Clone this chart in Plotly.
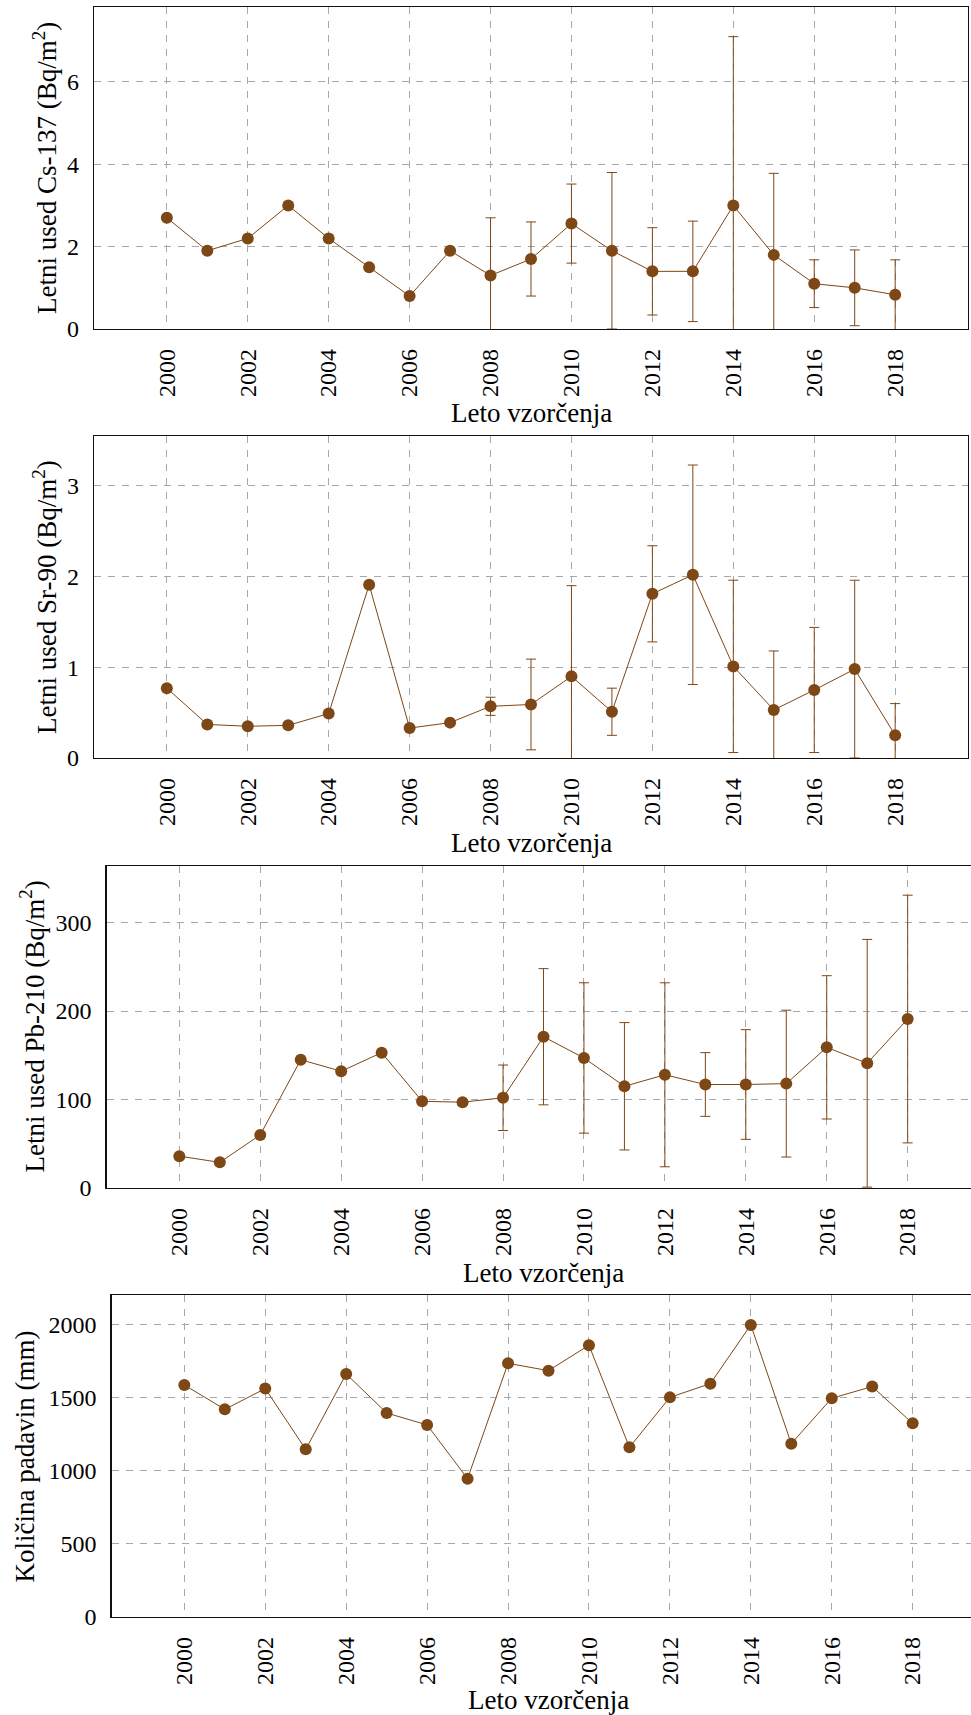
import plotly.graph_objects as go

W, H = 971, 1715

years = list(range(2000, 2019))
year_ticks = list(range(2000, 2019, 2))

cs137 = [2.7, 1.9, 2.2, 3.0, 2.2, 1.5, 0.8, 1.9, 1.3, 1.7, 2.56, 1.9, 1.4, 1.4, 3.0, 1.8, 1.1, 1.0, 0.83]
cs137_err = [None] * 8 + [1.4, 0.9, 0.96, 1.9, 1.06, 1.22, 4.1, 1.98, 0.58, 0.92, 0.85]

sr90 = [0.77, 0.37, 0.35, 0.36, 0.49, 1.91, 0.33, 0.39, 0.57, 0.59, 0.90, 0.51, 1.81, 2.02, 1.01, 0.53, 0.75, 0.98, 0.25]
sr90_err = [None] * 8 + [0.10, 0.50, 1.00, 0.26, 0.53, 1.21, 0.95, 0.65, 0.69, 0.98, 0.35]

pb210 = [36, 29, 60, 145, 132, 153, 98, 97, 102, 171, 147, 115, 128, 117, 117, 118, 159, 141, 191]
pb210_err = [None] * 8 + [37, 77, 85, 72, 104, 36, 62, 83, 81, 140, 140]

rain = [1589, 1422, 1564, 1148, 1664, 1397, 1315, 947, 1737, 1687, 1861, 1162, 1504, 1598, 2000, 1187, 1498, 1578, 1326]

y_titles = [
    "Letni used Cs-137 (Bq/m<sup>2</sup>)",
    "Letni used Sr-90 (Bq/m<sup>2</sup>)",
    "Letni used Pb-210 (Bq/m<sup>2</sup>)",
    "Količina padavin (mm)",
]
x_title = "Leto vzorčenja"
y_ticks = [[0, 2, 4, 6], [0, 1, 2, 3], [0, 100, 200, 300], [0, 500, 1000, 1500, 2000]]
y_max = [7.82, 3.55, 364, 2205]

# panel geometry in page pixels: (left, right, top, bottom)
panels = [(94, 968, 7, 329), (94, 968, 436, 758), (106.5, 980.5, 866, 1188), (111.5, 985.5, 1295, 1617)]
ytitle_x = [45, 45, 32.5, 25.4]
xtitle_y = [413, 843, 1273, 1700]

BROWN = "#7d4716"
FONT = "Liberation Serif"
GRID = "#a8a8a8"

series = [(cs137, cs137_err), (sr90, sr90_err), (pb210, pb210_err), (rain, None)]

fig = go.Figure()
annotations = []
X0, X1 = 1998.2, 2019.8
for i, ((vals, errs), (l, r, t, b)) in enumerate(zip(series, panels)):
    n = "" if i == 0 else str(i + 1)
    ppx = (r - l) / (X1 - X0)
    rr = min(r, W)
    xend = X0 + (rr - l) / ppx
    tr = dict(
        x=years, y=vals, mode="lines+markers",
        line=dict(color=BROWN, width=1),
        marker=dict(color=BROWN, size=12),
        xaxis="x" + n, yaxis="y" + n, showlegend=False, hoverinfo="skip",
    )
    if errs is not None:
        tr["error_y"] = dict(type="data", array=errs, symmetric=True, color=BROWN, thickness=1, width=5)
    fig.add_trace(go.Scatter(**tr))
    clipped = r > W
    fig.update_layout(**{
        "xaxis" + n: dict(
            domain=[l / W, rr / W], anchor="y" + n, range=[X0, xend],
            tickmode="array", tickvals=year_ticks, ticktext=[str(v) for v in year_ticks],
            tickangle=-90, showgrid=True, gridcolor=GRID, griddash="7px,7px", gridwidth=1,
            showline=True, mirror=True, linecolor="#111", linewidth=1.3,
            zeroline=False, ticks="", ticklabelstandoff=9, automargin=False,
            tickfont=dict(family=FONT, size=24, color="black"),
        ),
        "yaxis" + n: dict(
            domain=[1 - b / H, 1 - t / H], anchor="x" + n, range=[0, y_max[i]],
            tickmode="array", tickvals=y_ticks[i], ticktext=[str(v) for v in y_ticks[i]],
            showgrid=True, gridcolor=GRID, griddash="7px,7px", gridwidth=1,
            showline=True, mirror=(not clipped), linecolor="#111", linewidth=1.3,
            zeroline=False, ticks="", ticklabelstandoff=9, automargin=False,
            tickfont=dict(family=FONT, size=24, color="black"),
        ),
    })
    annotations.append(dict(
        text=y_titles[i], x=ytitle_x[i] / W, y=1 - (t + b) / 2 / H, xref="paper", yref="paper",
        textangle=-90, showarrow=False, xanchor="center", yanchor="middle",
        font=dict(family=FONT, size=27, color="black"),
    ))
    annotations.append(dict(
        text=x_title, x=(l + r) / 2 / W, y=1 - xtitle_y[i] / H, xref="paper", yref="paper",
        showarrow=False, xanchor="center", yanchor="middle",
        font=dict(family=FONT, size=27, color="black"),
    ))

fig.update_layout(
    width=W, height=H, margin=dict(l=0, r=0, t=0, b=0, autoexpand=False),
    paper_bgcolor="white", plot_bgcolor="white",
    font=dict(family=FONT, color="black"),
    annotations=annotations, hovermode=False,
)
fig.write_html(
    "out.html",
    config={"displayModeBar": False, "staticPlot": True},
    post_script="document.body.style.margin='0';document.body.style.overflow='hidden';",
)
